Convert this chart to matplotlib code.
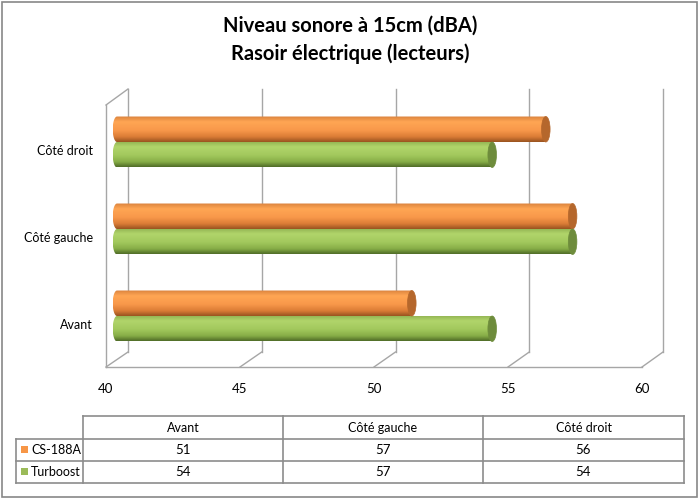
import matplotlib
matplotlib.use("Agg")
import matplotlib.pyplot as plt
import numpy as np
from matplotlib.colors import LinearSegmentedColormap
from matplotlib.patches import Ellipse, PathPatch, Rectangle
from matplotlib.path import Path

plt.rcParams["font.family"] = ["Lato", "DejaVu Sans"]

# Data
categories = ["Avant", "Côté gauche", "Côté droit"]
series_names = ["CS-188A", "Turboost"]
cs188a = [51, 57, 56]
turboost = [54, 57, 54]
x_ticks = [40, 45, 50, 55, 60]
title = "Niveau sonore à 15cm (dBA)\nRasoir électrique (lecteurs)"

# Colours
orange_cmap = LinearSegmentedColormap.from_list(
    "or", [(0, "#D9823D"), (0.22, "#FFA654"), (0.55, "#F8984A"), (0.8, "#DB7C36"), (1, "#98521F")])
green_cmap = LinearSegmentedColormap.from_list(
    "gr", [(0, "#8FB050"), (0.22, "#B1D56B"), (0.55, "#A2C85D"), (0.8, "#87AE47"), (1, "#4F6B27")])
cap_colors = ["#B5672C", "#6E8C3C"]
legend_colors = ["#F79646", "#9BBB59"]
grid_color = "#A6A6A6"

W, H = 700, 500
fig = plt.figure(figsize=(7, 5), dpi=100)

# overlay axes in pixel coordinates for frame, walls and table
ov = fig.add_axes([0, 0, 1, 1])
ov.set_xlim(0, W)
ov.set_ylim(H, 0)
ov.axis("off")

ov.add_patch(Rectangle((2, 2), 695, 495, fill=False, edgecolor="#878787", lw=1.2))

fig.text(0.5, 1 - 40 / H, title, ha="center", va="center", fontsize=14.5,
         fontweight="bold", linespacing=1.45)

# 3D walls (back at y 89..352, floor front edge at y 367)
back_x0, front_x0, unit_back, unit_front = 128, 106, 26.75, 26.8
back_top, back_bot, front_bot, front_top = 89, 352, 367, 105
for t in x_ticks:
    bx = back_x0 + (t - 40) * unit_back
    fx = front_x0 + (t - 40) * unit_front
    ov.plot([bx, bx], [back_top, back_bot], color=grid_color, lw=1)
    ov.plot([bx, fx], [back_bot, front_bot], color=grid_color, lw=1)
    ov.text(fx, 389, str(t), ha="center", va="center", fontsize=9.5)
ov.plot([front_x0, front_x0 + 20 * unit_front], [front_bot, front_bot], color=grid_color, lw=1)
ov.plot([front_x0, front_x0], [front_top, front_bot], color=grid_color, lw=1)
ov.plot([front_x0, back_x0], [front_top, back_top], color=grid_color, lw=1)

# data table
tab_top, row_h = 416, [23, 22, 22]
col_x = [83, 283, 483, 684]
leg_x = 16
ys = np.cumsum([tab_top] + row_h)
tc = "#8C8C8C"
ov.plot([col_x[0], col_x[-1]], [ys[0], ys[0]], color=tc, lw=1.2)
ov.plot([leg_x, col_x[-1]], [ys[1], ys[1]], color=tc, lw=1.2)
ov.plot([leg_x, col_x[-1]], [ys[2], ys[2]], color=tc, lw=1.2)
ov.plot([leg_x, col_x[-1]], [ys[3], ys[3]], color=tc, lw=1.2)
ov.plot([leg_x, leg_x], [ys[1], ys[3]], color=tc, lw=1.2)
for cx in col_x:
    ov.plot([cx, cx], [ys[0], ys[3]], color=tc, lw=1.2)
for j, cat in enumerate(categories):
    cxm = (col_x[j] + col_x[j + 1]) / 2
    ov.text(cxm, (ys[0] + ys[1]) / 2, cat, ha="center", va="center", fontsize=9)
    for i, vals in enumerate([cs188a, turboost]):
        ov.text(cxm, (ys[i + 1] + ys[i + 2]) / 2, str(vals[j]), ha="center", va="center", fontsize=9.5)
for i, name in enumerate(series_names):
    ymid = (ys[i + 1] + ys[i + 2]) / 2
    ov.add_patch(Rectangle((21, ymid - 4), 7, 7, color=legend_colors[i], lw=0))
    ov.text(31, ymid, name, ha="left", va="center", fontsize=9)

# bar axes: 40 -> x 117 px, 60 -> 653 px; category centres at 316, 229, 142 px
x_min = 39.5
unit = (653 - 117) / 20
px_l, px_r = 117 - (40 - x_min) * unit, 653
py_top, py_bot = 98.5, 359.5
ax = fig.add_axes([px_l / W, 1 - py_bot / H, (px_r - px_l) / W, (py_bot - py_top) / H])
ax.patch.set_alpha(0)
ax.axis("off")

bar_h = 0.293
cap_w = 0.32
grad = np.linspace(0, 1, 200).reshape(-1, 1)
for k, (vals, cmap) in enumerate([(cs188a, orange_cmap), (turboost, green_cmap)]):
    for j, v in enumerate(vals):
        yb = j + (0 if k == 0 else -bar_h)
        yt = yb + bar_h
        yc = (yb + yt) / 2
        # capsule clip path: half ellipse on left, flat on right
        th = np.linspace(np.pi / 2, 3 * np.pi / 2, 40)
        left = np.column_stack([40 + cap_w / 2 * np.cos(th), yc + bar_h / 2 * np.sin(th)])
        verts = np.vstack([left, [[v, yb], [v, yt], left[0]]])
        clip = PathPatch(Path(verts), transform=ax.transData, facecolor="none", edgecolor="none")
        ax.add_patch(clip)
        im = ax.imshow(grad, cmap=cmap, aspect="auto", origin="upper",
                       extent=(40 - cap_w / 2, v, yb, yt), interpolation="bicubic", zorder=2)
        im.set_clip_path(clip)
        ax.add_patch(Ellipse((v, yc), cap_w, bar_h, facecolor=cap_colors[k],
                             edgecolor=cap_colors[k], lw=0.5, zorder=3))
ax.set_xlim(x_min, 60)
ax.set_ylim(-0.5, 2.5)

# category labels, right edge ~24 px left of the 40 mark
for j, cat in enumerate(categories):
    ax.text(40 - 24 / unit, j - 0.1, cat, ha="right", va="center", fontsize=9, clip_on=False)

fig.savefig("out.png", dpi=100)
